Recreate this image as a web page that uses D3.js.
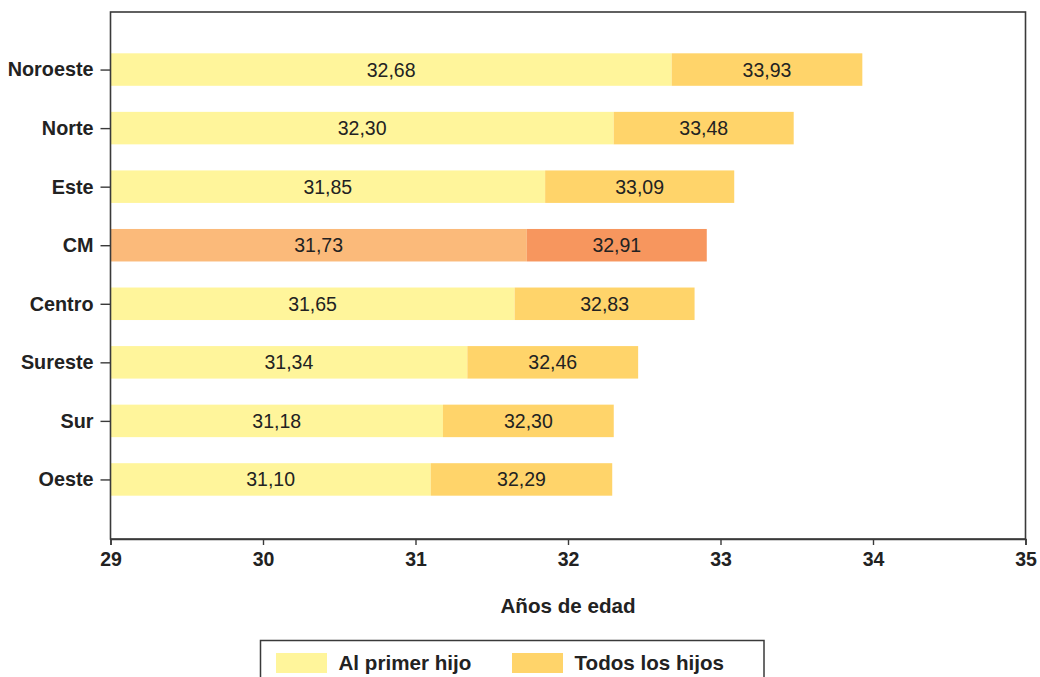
<!DOCTYPE html>
<html>
<head>
<meta charset="utf-8">
<script src="https://cdn.jsdelivr.net/npm/d3@7"></script>
<style>
  body { margin: 0; background: #fff; }
  svg { display: block; font-family: "Liberation Sans", Arial, sans-serif; }
</style>
</head>
<body>
<svg id="chart" width="1040" height="677"></svg>
<script>
const categories = ["Noroeste", "Norte", "Este", "CM", "Centro", "Sureste", "Sur", "Oeste"];
const primerHijo = [32.68, 32.30, 31.85, 31.73, 31.65, 31.34, 31.18, 31.10];
const todosHijos = [33.93, 33.48, 33.09, 32.91, 32.83, 32.46, 32.30, 32.29];
const xTicks = [29, 30, 31, 32, 33, 34, 35];
const seriesNames = ["Al primer hijo", "Todos los hijos"];
const xTitle = "Años de edad";
const highlight = "CM";

(function () {
const colPrimer = "#fff59b", colTodos = "#ffd46a";
const colPrimerHi = "#fbba7a", colTodosHi = "#f7965e";
const txt = "#222";
const fmt = v => v.toFixed(2).replace(".", ",");

const svg = d3.select("#chart");
const pL = 110.5, pR = 1025.5, pT = 12, pB = 539;

const x = d3.scaleLinear().domain([29, 35]).range([pL, pR]);
const y = d3.scalePoint().domain(categories).range([pT - 1, pB - 1]).padding(1);
const barH = 32.5;

const data = categories.map((c, i) => ({ c, a: primerHijo[i], b: todosHijos[i] }));

const g = svg.append("g");
g.selectAll("rect.a").data(data).join("rect").attr("class", "a")
  .attr("x", x(29)).attr("y", d => y(d.c) - barH / 2)
  .attr("width", d => x(d.a) - x(29)).attr("height", barH)
  .attr("fill", d => d.c === highlight ? colPrimerHi : colPrimer);
g.selectAll("rect.b").data(data).join("rect").attr("class", "b")
  .attr("x", d => x(d.a)).attr("y", d => y(d.c) - barH / 2)
  .attr("width", d => x(d.b) - x(d.a)).attr("height", barH)
  .attr("fill", d => d.c === highlight ? colTodosHi : colTodos);

g.selectAll("text.va").data(data).join("text").attr("class", "va")
  .attr("x", d => (x(29) + x(d.a)) / 2).attr("y", d => y(d.c)).attr("dy", "0.36em")
  .attr("text-anchor", "middle").attr("font-size", 19.5).attr("fill", txt)
  .text(d => fmt(d.a));
g.selectAll("text.vb").data(data).join("text").attr("class", "vb")
  .attr("x", d => (x(d.a) + x(d.b)) / 2).attr("y", d => y(d.c)).attr("dy", "0.36em")
  .attr("text-anchor", "middle").attr("font-size", 19.5).attr("fill", txt)
  .text(d => fmt(d.b));

svg.append("rect").attr("x", pL).attr("y", pT).attr("width", pR - pL).attr("height", pB - pT)
  .attr("fill", "none").attr("stroke", "#3a3a3a").attr("stroke-width", 1.6);

const xa = svg.append("g").attr("transform", `translate(0,${pB})`)
  .call(d3.axisBottom(x).tickValues(xTicks).tickFormat(d3.format("d")).tickSize(6).tickPadding(7));
xa.select(".domain").attr("stroke", "#3a3a3a").attr("stroke-width", 1.6);
xa.selectAll(".tick line").attr("stroke", "#3a3a3a").attr("stroke-width", 1.4);
xa.selectAll("text").attr("font-size", 19.5).attr("font-weight", "bold").attr("fill", txt)
  .attr("font-family", "Liberation Sans, Arial, sans-serif");

const ya = svg.append("g").attr("transform", `translate(${pL},0)`)
  .call(d3.axisLeft(y).tickSize(10).tickPadding(7));
ya.select(".domain").remove();
ya.selectAll(".tick line").attr("stroke", "#3a3a3a").attr("stroke-width", 1.4);
ya.selectAll("text").attr("font-size", 19.8).attr("font-weight", "bold").attr("fill", txt)
  .attr("font-family", "Liberation Sans, Arial, sans-serif");

svg.append("text").attr("x", (pL + pR) / 2).attr("y", 613)
  .attr("text-anchor", "middle").attr("font-size", 20.6).attr("font-weight", "bold").attr("fill", txt)
  .text(xTitle);

const lg = svg.append("g");
lg.append("rect").attr("x", 260.5).attr("y", 640.5).attr("width", 503.5).attr("height", 50)
  .attr("fill", "#fff").attr("stroke", "#3a3a3a").attr("stroke-width", 1.5);
const legX = [276, 512];
const legCols = [colPrimer, colTodos];
seriesNames.forEach((n, i) => {
  lg.append("rect").attr("x", legX[i]).attr("y", 653).attr("width", 51).attr("height", 20).attr("fill", legCols[i]);
  lg.append("text").attr("x", legX[i] + 62.5).attr("y", 670)
    .attr("font-size", 20.6).attr("font-weight", "bold").attr("fill", txt).text(n);
});
})();
</script>
</body>
</html>
